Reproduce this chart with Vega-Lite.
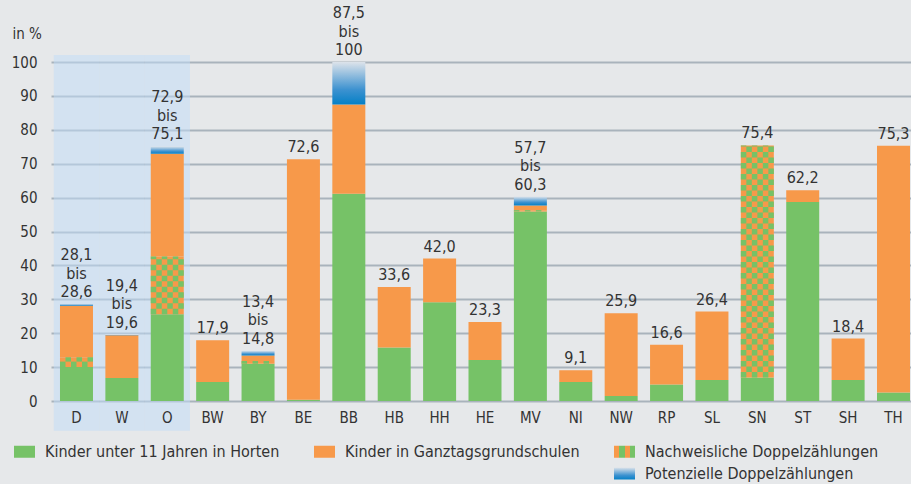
{
  "$schema": "https://vega.github.io/schema/vega-lite/v6.json",
  "width": 860,
  "height": 339,
  "autosize": {"type": "none"},
  "padding": {"left": 51, "top": 62, "right": 0, "bottom": 83},
  "background": "#e6e8ea",
  "config": {
    "view": {"stroke": null},
    "font": "DejaVu Sans Condensed, Roboto, sans-serif",
    "axisY": {
      "titleAngle": 0,
      "titleAlign": "left",
      "titleBaseline": "middle",
      "titleX": -39,
      "titleY": -29,
      "titleFontSize": 15,
      "titleFontWeight": "normal",
      "titleColor": "#333333",
      "tickCount": 12,
      "grid": true,
      "gridColor": "#a9b3bc",
      "gridWidth": 2,
      "domain": false,
      "ticks": false,
      "labelPadding": 14,
      "labelFontSize": 15,
      "labelColor": "#333333",
      "labelOverlap": false
    }
  },
  "datasets": {
    "segments": [
      {"state": "D", "type": "Kinder unter 11 Jahren in Horten", "lo": 0, "hi": 10.0},
      {"state": "D", "type": "Nachweisliche Doppelzählungen", "lo": 10.0, "hi": 12.9},
      {"state": "D", "type": "Kinder in Ganztagsgrundschulen", "lo": 12.9, "hi": 28.1},
      {"state": "D", "type": "Potenzielle Doppelzählungen", "lo": 28.1, "hi": 28.6},
      {"state": "W", "type": "Kinder unter 11 Jahren in Horten", "lo": 0, "hi": 6.8},
      {"state": "W", "type": "Kinder in Ganztagsgrundschulen", "lo": 6.8, "hi": 19.4},
      {"state": "W", "type": "Potenzielle Doppelzählungen", "lo": 19.4, "hi": 19.6},
      {"state": "O", "type": "Kinder unter 11 Jahren in Horten", "lo": 0, "hi": 25.6},
      {"state": "O", "type": "Nachweisliche Doppelzählungen", "lo": 25.6, "hi": 42.6},
      {"state": "O", "type": "Kinder in Ganztagsgrundschulen", "lo": 42.6, "hi": 72.9},
      {"state": "O", "type": "Potenzielle Doppelzählungen", "lo": 72.9, "hi": 75.1},
      {"state": "BW", "type": "Kinder unter 11 Jahren in Horten", "lo": 0, "hi": 5.6},
      {"state": "BW", "type": "Kinder in Ganztagsgrundschulen", "lo": 5.6, "hi": 17.9},
      {"state": "BY", "type": "Kinder unter 11 Jahren in Horten", "lo": 0, "hi": 11.0},
      {"state": "BY", "type": "Nachweisliche Doppelzählungen", "lo": 11.0, "hi": 11.8},
      {"state": "BY", "type": "Kinder in Ganztagsgrundschulen", "lo": 11.8, "hi": 13.4},
      {"state": "BY", "type": "Potenzielle Doppelzählungen", "lo": 13.4, "hi": 14.8},
      {"state": "BE", "type": "Kinder unter 11 Jahren in Horten", "lo": 0, "hi": 0.4},
      {"state": "BE", "type": "Kinder in Ganztagsgrundschulen", "lo": 0.4, "hi": 71.3},
      {"state": "BB", "type": "Kinder unter 11 Jahren in Horten", "lo": 0, "hi": 61.1},
      {"state": "BB", "type": "Kinder in Ganztagsgrundschulen", "lo": 61.1, "hi": 87.5},
      {"state": "BB", "type": "Potenzielle Doppelzählungen", "lo": 87.5, "hi": 100},
      {"state": "HB", "type": "Kinder unter 11 Jahren in Horten", "lo": 0, "hi": 15.8},
      {"state": "HB", "type": "Kinder in Ganztagsgrundschulen", "lo": 15.8, "hi": 33.6},
      {"state": "HH", "type": "Kinder unter 11 Jahren in Horten", "lo": 0, "hi": 29.1},
      {"state": "HH", "type": "Kinder in Ganztagsgrundschulen", "lo": 29.1, "hi": 42.0},
      {"state": "HE", "type": "Kinder unter 11 Jahren in Horten", "lo": 0, "hi": 12.1},
      {"state": "HE", "type": "Kinder in Ganztagsgrundschulen", "lo": 12.1, "hi": 23.3},
      {"state": "MV", "type": "Kinder unter 11 Jahren in Horten", "lo": 0, "hi": 55.9},
      {"state": "MV", "type": "Nachweisliche Doppelzählungen", "lo": 55.9, "hi": 56.3},
      {"state": "MV", "type": "Kinder in Ganztagsgrundschulen", "lo": 56.3, "hi": 57.7},
      {"state": "MV", "type": "Potenzielle Doppelzählungen", "lo": 57.7, "hi": 60.3},
      {"state": "NI", "type": "Kinder unter 11 Jahren in Horten", "lo": 0, "hi": 5.6},
      {"state": "NI", "type": "Kinder in Ganztagsgrundschulen", "lo": 5.6, "hi": 9.1},
      {"state": "NW", "type": "Kinder unter 11 Jahren in Horten", "lo": 0, "hi": 1.5},
      {"state": "NW", "type": "Kinder in Ganztagsgrundschulen", "lo": 1.5, "hi": 25.9},
      {"state": "RP", "type": "Kinder unter 11 Jahren in Horten", "lo": 0, "hi": 4.9},
      {"state": "RP", "type": "Kinder in Ganztagsgrundschulen", "lo": 4.9, "hi": 16.6},
      {"state": "SL", "type": "Kinder unter 11 Jahren in Horten", "lo": 0, "hi": 6.2},
      {"state": "SL", "type": "Kinder in Ganztagsgrundschulen", "lo": 6.2, "hi": 26.4},
      {"state": "SN", "type": "Kinder unter 11 Jahren in Horten", "lo": 0, "hi": 6.9},
      {"state": "SN", "type": "Nachweisliche Doppelzählungen", "lo": 6.9, "hi": 75.4},
      {"state": "ST", "type": "Kinder unter 11 Jahren in Horten", "lo": 0, "hi": 58.7},
      {"state": "ST", "type": "Kinder in Ganztagsgrundschulen", "lo": 58.7, "hi": 62.2},
      {"state": "SH", "type": "Kinder unter 11 Jahren in Horten", "lo": 0, "hi": 6.2},
      {"state": "SH", "type": "Kinder in Ganztagsgrundschulen", "lo": 6.2, "hi": 18.4},
      {"state": "TH", "type": "Kinder unter 11 Jahren in Horten", "lo": 0, "hi": 2.5},
      {"state": "TH", "type": "Kinder in Ganztagsgrundschulen", "lo": 2.5, "hi": 75.3}
    ],
    "labels": [
      {"state": "D", "top": 28.6, "label": "28,1\nbis\n28,6"},
      {"state": "W", "top": 19.6, "label": "19,4\nbis\n19,6"},
      {"state": "O", "top": 75.1, "label": "72,9\nbis\n75,1"},
      {"state": "BW", "top": 17.9, "label": "17,9"},
      {"state": "BY", "top": 14.8, "label": "13,4\nbis\n14,8"},
      {"state": "BE", "top": 71.3, "label": "72,6"},
      {"state": "BB", "top": 100, "label": "87,5\nbis\n100"},
      {"state": "HB", "top": 33.6, "label": "33,6"},
      {"state": "HH", "top": 42.0, "label": "42,0"},
      {"state": "HE", "top": 23.3, "label": "23,3"},
      {"state": "MV", "top": 60.3, "label": "57,7\nbis\n60,3"},
      {"state": "NI", "top": 9.1, "label": "9,1"},
      {"state": "NW", "top": 25.9, "label": "25,9"},
      {"state": "RP", "top": 16.6, "label": "16,6"},
      {"state": "SL", "top": 26.4, "label": "26,4"},
      {"state": "SN", "top": 75.4, "label": "75,4"},
      {"state": "ST", "top": 62.2, "label": "62,2"},
      {"state": "SH", "top": 18.4, "label": "18,4"},
      {"state": "TH", "top": 75.3, "label": "75,3"}
    ],
    "highlight": [
      {"state": "D", "lo": -8.8, "hi": 102.1},
      {"state": "W", "lo": -8.8, "hi": 102.1},
      {"state": "O", "lo": -8.8, "hi": 102.1}
    ]
  },
  "encoding": {
    "x": {
      "field": "state",
      "type": "nominal",
      "sort": null,
      "scale": {
        "domain": ["D", "W", "O", "BW", "BY", "BE", "BB", "HB", "HH", "HE", "MV", "NI", "NW", "RP", "SL", "SN", "ST", "SH", "TH"],
        "paddingInner": 0.273,
        "paddingOuter": 0.11,
        "align": 0.9
      },
      "axis": {
        "title": null,
        "domain": false,
        "ticks": false,
        "grid": false,
        "zindex": 1,
        "labelAngle": 0,
        "labelPadding": 9,
        "labelFontSize": 15,
        "labelColor": "#333333"
      }
    }
  },
  "layer": [
    {
      "data": {"name": "highlight"},
      "mark": {"type": "bar", "width": {"band": 1.375}, "color": "#c0dcf8", "opacity": 0.5},
      "encoding": {
        "y": {
          "field": "lo",
          "type": "quantitative",
          "title": "in %",
          "scale": {"domain": [0, 100], "nice": false},
          "axis": {"values": [0, 10, 20, 30, 40, 50, 60, 70, 80, 90, 100], "tickCount": 12}
        },
        "y2": {"field": "hi"}
      }
    },
    {
      "data": {"name": "segments"},
      "transform": [{"filter": "datum.type !== 'Nachweisliche Doppelzählungen'"}],
      "mark": {"type": "bar"},
      "encoding": {
        "y": {"field": "lo", "type": "quantitative", "title": "in %", "axis": {"values": [0, 10, 20, 30, 40, 50, 60, 70, 80, 90, 100], "tickCount": 12}},
        "y2": {"field": "hi"},
        "color": {
          "field": "type",
          "type": "nominal",
          "scale": {
            "domain": ["Kinder unter 11 Jahren in Horten", "Kinder in Ganztagsgrundschulen", "Nachweisliche Doppelzählungen", " ", "  ", "Potenzielle Doppelzählungen"],
            "range": [
              "#76c267",
              "#f7994a",
              {"expr": "{gradient: 'linear', x1: 0, y1: 0, x2: 1, y2: 0, stops: [{offset: 0, color: '#f7994a'}, {offset: 0.25, color: '#f7994a'}, {offset: 0.25, color: '#76c267'}, {offset: 0.5, color: '#76c267'}, {offset: 0.5, color: '#f7994a'}, {offset: 0.75, color: '#f7994a'}, {offset: 0.75, color: '#76c267'}, {offset: 1, color: '#76c267'}]}"},
              "transparent",
              "transparent",
              {"expr": "{gradient: 'linear', x1: 0, y1: 1, x2: 0, y2: 0, stops: [{offset: 0, color: '#0580c6'}, {offset: 0.35, color: '#3d92d0'}, {offset: 1, color: '#dde3ea'}]}"}
            ]
          },
          "legend": {
            "orient": "none",
            "legendX": -37,
            "legendY": 379,
            "columns": 3,
            "direction": "horizontal",
            "title": null,
            "symbolType": "M-1,-0.571H1V0.571H-1Z",
            "symbolSize": 441,
            "symbolStrokeWidth": 0,
            "symbolOpacity": 1,
            "labelFontSize": 16,
            "labelColor": "#333333",
            "labelOffset": 10,
            "labelLimit": 400,
            "columnPadding": 34,
            "rowPadding": 3
          }
        }
      }
    },
    {
      "data": {"name": "segments"},
      "transform": [{"filter": "datum.type === 'Nachweisliche Doppelzählungen'"}],
      "mark": {"type": "bar", "color": "#f7994a"},
      "encoding": {
        "y": {"field": "lo", "type": "quantitative", "title": "in %", "axis": {"values": [0, 10, 20, 30, 40, 50, 60, 70, 80, 90, 100], "tickCount": 12}},
        "y2": {"field": "hi"}
      }
    },
    {
      "data": {"name": "segments"},
      "transform": [{"filter": "datum.type === 'Nachweisliche Doppelzählungen'"}],
      "mark": {"type": "rule", "color": "#76c267", "strokeWidth": 5.5, "xOffset": -13.75, "strokeDash": [5.5, 5.5]},
      "encoding": {"y": {"field": "lo", "type": "quantitative", "title": "in %", "axis": {"values": [0, 10, 20, 30, 40, 50, 60, 70, 80, 90, 100], "tickCount": 12}}, "y2": {"field": "hi"}}
    },
    {
      "data": {"name": "segments"},
      "transform": [{"filter": "datum.type === 'Nachweisliche Doppelzählungen'"}],
      "mark": {"type": "rule", "color": "#76c267", "strokeWidth": 5.5, "xOffset": -8.25, "strokeDash": [5.5, 5.5], "strokeDashOffset": 5.5},
      "encoding": {"y": {"field": "lo", "type": "quantitative", "title": "in %", "axis": {"values": [0, 10, 20, 30, 40, 50, 60, 70, 80, 90, 100], "tickCount": 12}}, "y2": {"field": "hi"}}
    },
    {
      "data": {"name": "segments"},
      "transform": [{"filter": "datum.type === 'Nachweisliche Doppelzählungen'"}],
      "mark": {"type": "rule", "color": "#76c267", "strokeWidth": 5.5, "xOffset": -2.75, "strokeDash": [5.5, 5.5]},
      "encoding": {"y": {"field": "lo", "type": "quantitative", "title": "in %", "axis": {"values": [0, 10, 20, 30, 40, 50, 60, 70, 80, 90, 100], "tickCount": 12}}, "y2": {"field": "hi"}}
    },
    {
      "data": {"name": "segments"},
      "transform": [{"filter": "datum.type === 'Nachweisliche Doppelzählungen'"}],
      "mark": {"type": "rule", "color": "#76c267", "strokeWidth": 5.5, "xOffset": 2.75, "strokeDash": [5.5, 5.5], "strokeDashOffset": 5.5},
      "encoding": {"y": {"field": "lo", "type": "quantitative", "title": "in %", "axis": {"values": [0, 10, 20, 30, 40, 50, 60, 70, 80, 90, 100], "tickCount": 12}}, "y2": {"field": "hi"}}
    },
    {
      "data": {"name": "segments"},
      "transform": [{"filter": "datum.type === 'Nachweisliche Doppelzählungen'"}],
      "mark": {"type": "rule", "color": "#76c267", "strokeWidth": 5.5, "xOffset": 8.25, "strokeDash": [5.5, 5.5]},
      "encoding": {"y": {"field": "lo", "type": "quantitative", "title": "in %", "axis": {"values": [0, 10, 20, 30, 40, 50, 60, 70, 80, 90, 100], "tickCount": 12}}, "y2": {"field": "hi"}}
    },
    {
      "data": {"name": "segments"},
      "transform": [{"filter": "datum.type === 'Nachweisliche Doppelzählungen'"}],
      "mark": {"type": "rule", "color": "#76c267", "strokeWidth": 5.5, "xOffset": 13.75, "strokeDash": [5.5, 5.5], "strokeDashOffset": 5.5},
      "encoding": {"y": {"field": "lo", "type": "quantitative", "title": "in %", "axis": {"values": [0, 10, 20, 30, 40, 50, 60, 70, 80, 90, 100], "tickCount": 12}}, "y2": {"field": "hi"}}
    },
    {
      "data": {"name": "labels"},
      "transform": [{"filter": "indexof(datum.label, 'bis') < 0"}],
      "mark": {"type": "text", "baseline": "bottom", "align": "center", "dy": -4, "fontSize": 16, "color": "#333333"},
      "encoding": {
        "y": {"field": "top", "type": "quantitative", "title": "in %", "axis": {"values": [0, 10, 20, 30, 40, 50, 60, 70, 80, 90, 100], "tickCount": 12}},
        "text": {"field": "label"}
      }
    },
    {
      "data": {"name": "labels"},
      "transform": [{"filter": "indexof(datum.label, 'bis') >= 0"}],
      "mark": {"type": "text", "baseline": "bottom", "align": "center", "dy": -41, "lineBreak": "\n", "lineHeight": 18.5, "fontSize": 16, "color": "#333333"},
      "encoding": {
        "y": {"field": "top", "type": "quantitative", "title": "in %", "axis": {"values": [0, 10, 20, 30, 40, 50, 60, 70, 80, 90, 100], "tickCount": 12}},
        "text": {"field": "label"}
      }
    }
  ]
}
